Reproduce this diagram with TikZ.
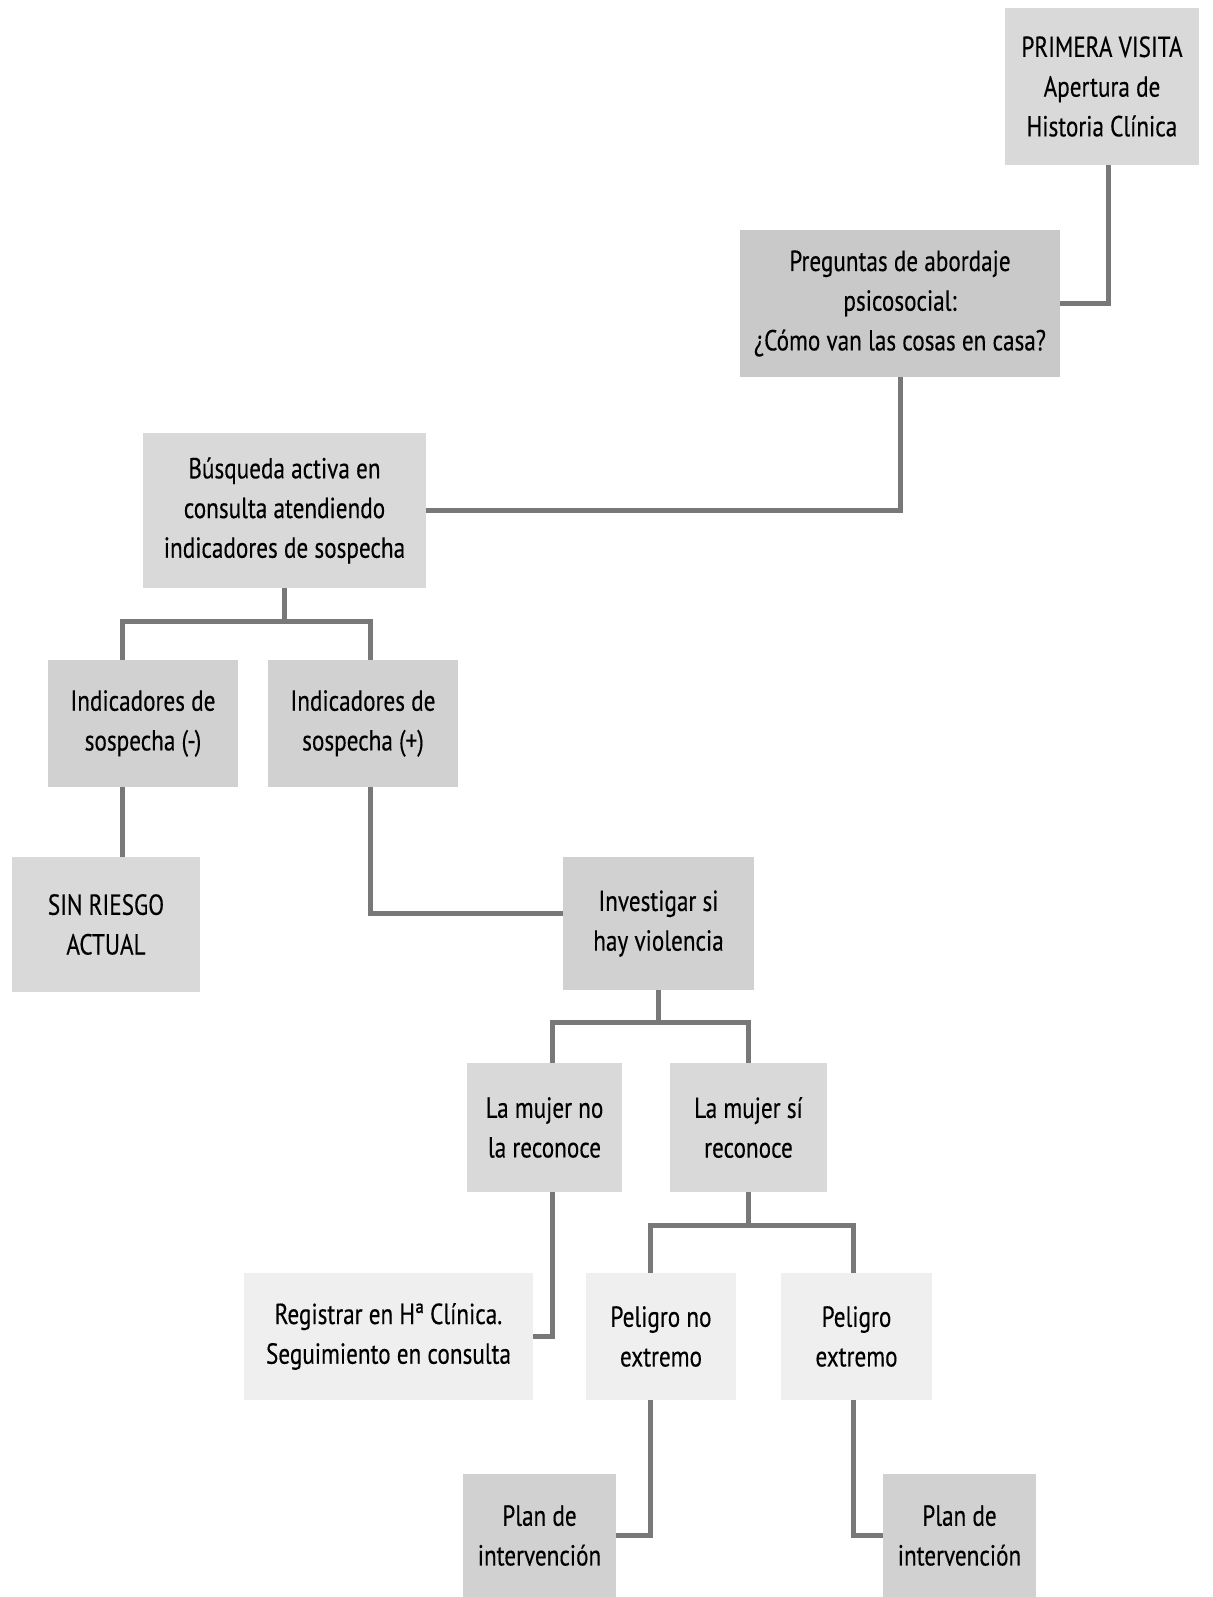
\documentclass[tikz,border=0pt]{standalone}
\usepackage{fontspec}
\setmainfont{PT Sans}[FakeStretch=0.8,FakeBold=0.3]
\usetikzlibrary{calc}
\definecolor{lineg}{HTML}{787878}
\definecolor{boxA}{HTML}{D9D9D9}
\definecolor{boxB}{HTML}{C9C9C9}
\definecolor{boxC}{HTML}{D1D1D1}
\definecolor{boxL}{HTML}{EFEFEF}
\tikzset{
  box/.style={rectangle, inner sep=0pt, align=center, text=black,
    font=\fontsize{29}{39.7}\selectfont},
  conn/.style={draw=lineg, line width=5pt, line join=miter}
}
\begin{document}
\begin{tikzpicture}[x=1pt,y=-1pt]
\useasboundingbox (0,0) rectangle (1212,1597);
\node[box, fill=boxA, minimum width=194, minimum height=157] (prim) at (1102,86.5) {PRIMERA VISITA\\Apertura de\\Historia Clínica};
\node[box, fill=boxB, minimum width=320, minimum height=147] (preg) at (900,303.5) {Preguntas de abordaje\\psicosocial:\\¿Cómo van las cosas en casa?};
\node[box, fill=boxA, minimum width=283, minimum height=155] (busq) at (284.5,510.5) {Búsqueda activa en\\consulta atendiendo\\indicadores de sospecha};
\node[box, fill=boxC, minimum width=190, minimum height=127] (indm) at (143,723.5) {Indicadores de\\sospecha (-)};
\node[box, fill=boxC, minimum width=190, minimum height=127] (indp) at (363,723.5) {Indicadores de\\sospecha (+)};
\node[box, fill=boxA, minimum width=188, minimum height=135] (sin) at (106,924.5) {SIN RIESGO\\ACTUAL};
\node[box, fill=boxC, minimum width=191, minimum height=133] (inv) at (658.5,923.5) {Investigar si\\hay violencia};
\node[box, fill=boxA, minimum width=155, minimum height=129] (mno) at (544.5,1127.5) {La mujer no\\la reconoce};
\node[box, fill=boxA, minimum width=157, minimum height=129] (msi) at (748.5,1127.5) {La mujer sí\\reconoce};
\node[box, fill=boxL, minimum width=289, minimum height=127] (reg) at (388.5,1336.5) {Registrar en Hª Clínica.\\Seguimiento en consulta};
\node[box, fill=boxL, minimum width=150, minimum height=127] (pno) at (661,1336.5) {Peligro no\\extremo};
\node[box, fill=boxL, minimum width=151, minimum height=127] (pex) at (856.5,1336.5) {Peligro\\extremo};
\node[box, fill=boxC, minimum width=153, minimum height=123] (plan1) at (539.5,1535.5) {Plan de\\intervención};
\node[box, fill=boxC, minimum width=153, minimum height=123] (plan2) at (959.5,1535.5) {Plan de\\intervención};

\coordinate (primB) at ($(prim.south)+(6,0)$);
\coordinate (indmT) at ($(indm.north)+(-21,0)$);
\coordinate (indpT) at ($(indp.north)+(7,0)$);
\coordinate (mnoT) at ($(mno.north)+(7.5,0)$);
\coordinate (msiT) at (msi.north);
\coordinate (pnoT) at ($(pno.north)+(-11,0)$);
\coordinate (pexT) at ($(pex.north)+(-3.5,0)$);

\draw[conn] (primB) |- (preg.east);
\draw[conn] (preg.south) |- (busq.east);
\draw[conn] (busq.south) -- ++(0,33);
\draw[conn] (indmT) |- ($(busq.south)+(0,33)$) -| (indpT);
\draw[conn] (indm.south -| indmT) -- (sin.north -| indmT);
\draw[conn] (indp.south -| indpT) |- ($(inv.west)+(0,-10)$);
\draw[conn] (inv.south) -- ++(0,32);
\draw[conn] (mnoT) |- ($(inv.south)+(0,32)$) -| (msiT);
\draw[conn] (mno.south -| mnoT) |- (reg.east);
\draw[conn] (msi.south) -- ++(0,33);
\draw[conn] (pnoT) |- ($(msi.south)+(0,33)$) -| (pexT);
\draw[conn] (pno.south -| pnoT) |- (plan1.east);
\draw[conn] (pex.south -| pexT) |- (plan2.west);
\end{tikzpicture}
\end{document}
